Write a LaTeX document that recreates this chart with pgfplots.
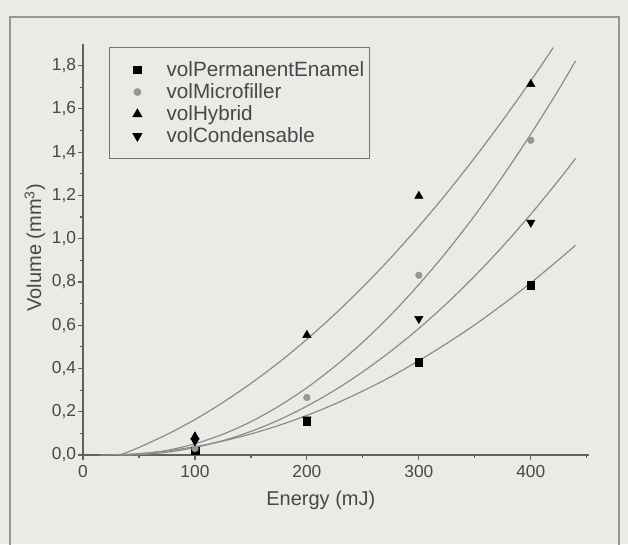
\documentclass[border=0pt]{standalone}
\usepackage{fontspec}
\setmainfont{Liberation Sans}
\usepackage{pgfplots}
\pgfplotsset{compat=1.18}
\definecolor{bg}{RGB}{235,234,230}
\definecolor{ink}{RGB}{72,72,72}
\definecolor{fitline}{RGB}{140,140,140}
\definecolor{framegray}{RGB}{150,150,150}
\definecolor{micro}{RGB}{150,150,150}

\begin{document}
\begin{tikzpicture}[x=1pt,y=1pt]
\fill[bg] (0,0) rectangle (471,408);
\path[use as bounding box] (0,0) rectangle (471,408);
\draw[framegray, line width=1.5pt] (7.5,-20) rectangle (464.25,395.25);
\begin{axis}[
  at={(62.25pt,66.75pt)}, anchor=south west,
  scale only axis, width=379.5pt, height=308.25pt,
  xmin=0, xmax=452, ymin=0, ymax=1.9,
  axis x line=bottom, axis y line=left,
  axis line style={-, black!62, line width=1.4pt},
  xtick={0,100,200,300,400}, minor xtick={50,150,250,350,450},
  ytick={0,0.2,0.4,0.6,0.8,1.0,1.2,1.4,1.6,1.8},
  minor ytick={0.1,0.3,0.5,0.7,0.9,1.1,1.3,1.5,1.7},
  tick align=outside, major tick length=4pt, minor tick length=2.5pt,
  tick style={black!62, line width=0.9pt},
  /pgf/number format/assume math mode=true,
  tick label style={font=\fontsize{13}{13}\selectfont, text=ink},
  yticklabel style={inner xsep=1pt, /pgf/number format/.cd, fixed, fixed zerofill, precision=1, use comma},
  xlabel={Energy (mJ)}, ylabel={Volume (mm\textsuperscript{3})},
  label style={font=\fontsize{15}{15}\selectfont, text=ink},
  xlabel style={at={(axis description cs:0.47,-0.11)}, anchor=center},
  ylabel style={at={(axis description cs:-0.095,0.504)}, anchor=center},
  legend style={at={(0.0514,0.9927)}, anchor=north west, draw=black!55, line width=0.8pt,
    fill=none, text=ink, font=\fontsize{15.5}{15.5}\selectfont,
    inner xsep=2pt, inner ysep=8.5pt, row sep=-0.2pt},
  legend cell align=left,
  legend image code/.code={\path (0pt,0pt) (38pt,0pt); \draw[#1] plot coordinates {(18.5pt,0pt)};},
]
% fitted curves
\addplot[forget plot, smooth, fitline, line width=0.9pt] coordinates {
  (15,0) (25,0.0005) (50,0.0064) (75,0.0191) (100,0.0384) (125,0.0645) (150,0.0974)
  (175,0.137) (200,0.183) (225,0.236) (250,0.296) (275,0.362) (300,0.436) (325,0.516)
  (350,0.602) (375,0.696) (400,0.796) (425,0.903) (440,0.970)};
\addplot[forget plot, smooth, fitline, line width=0.9pt] coordinates {
  (31,0) (50,0.004) (75,0.021) (100,0.052) (125,0.096) (150,0.154) (175,0.226)
  (200,0.311) (225,0.410) (250,0.522) (275,0.648) (300,0.788) (325,0.941)
  (350,1.108) (375,1.289) (400,1.483) (425,1.690) (440,1.822)};
\addplot[forget plot, smooth, fitline, line width=0.9pt] coordinates {
  (33,0) (50,0.035) (75,0.095) (100,0.164) (125,0.243) (150,0.331) (175,0.428)
  (200,0.535) (225,0.651) (250,0.777) (275,0.912) (300,1.057) (325,1.211)
  (350,1.375) (375,1.548) (400,1.73) (420,1.883)};
\addplot[forget plot, smooth, fitline, line width=0.9pt] coordinates {
  (36,0) (50,0.0016) (75,0.0128) (100,0.0344) (125,0.0665) (150,0.109) (175,0.162)
  (200,0.226) (225,0.300) (250,0.385) (275,0.480) (300,0.585) (325,0.701)
  (350,0.828) (375,0.965) (400,1.113) (425,1.271) (440,1.371)};
% measured points
\addplot[only marks, mark=square*, mark size=2.9pt, black] coordinates {
  (100,0.02) (200,0.155) (300,0.428) (400,0.785)};
\addlegendentry{volPermanentEnamel}
\addplot[only marks, mark=*, mark size=2.5pt, micro, mark options={draw=micro, fill=micro}] coordinates {
  (100,0.03) (200,0.266) (300,0.831) (400,1.455)};
\addlegendentry{volMicrofiller}
\addplot[only marks, mark=triangle*, mark size=3.6pt, black] coordinates {
  (100,0.085) (200,0.554) (300,1.197) (400,1.714)};
\addlegendentry{volHybrid}
\addplot[only marks, mark=triangle*, mark size=3.6pt, black, mark options={rotate=180}] coordinates {
  (100,0.065) (200,0.165) (300,0.63) (400,1.075)};
\addlegendentry{volCondensable}
\end{axis}
\end{tikzpicture}
\end{document}
